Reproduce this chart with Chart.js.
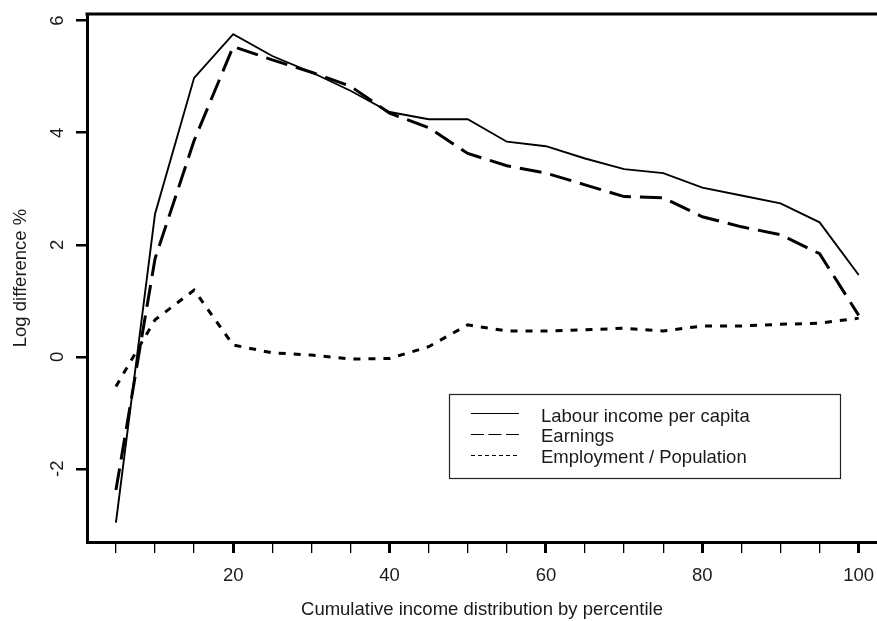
<!DOCTYPE html>
<html>
<head>
<meta charset="utf-8">
<title>Log difference by cumulative income percentile</title>
<script src="https://cdn.jsdelivr.net/npm/chart.js@4.4.1/dist/chart.umd.min.js"></script>
<style>
  html, body { margin: 0; padding: 0; background: #ffffff; }
  #wrap { width: 877px; height: 621px; position: relative; }
</style>
</head>
<body>
<div id="wrap"><canvas id="chart" width="877" height="621"></canvas></div>
<script>
// Cumulative income distribution, by percentile
const percentiles = [5, 10, 15, 20, 25, 30, 35, 40, 45, 50, 55, 60, 65, 70, 75, 80, 85, 90, 95, 100];

// Log difference, %
const labourIncome = [-2.96, 2.55, 4.98, 5.76, 5.37, 5.08, 4.75, 4.37, 4.24, 4.24, 3.84, 3.76, 3.54, 3.35, 3.28, 3.02, 2.88, 2.74, 2.40, 1.46];
const earnings     = [-2.38, 1.75, 3.86, 5.54, 5.30, 5.08, 4.83, 4.35, 4.09, 3.63, 3.41, 3.28, 3.07, 2.86, 2.84, 2.50, 2.32, 2.18, 1.84, 0.74];
const employment   = [-0.53, 0.66, 1.19, 0.21, 0.07, 0.03, -0.04, -0.03, 0.18, 0.57, 0.46, 0.46, 0.48, 0.51, 0.46, 0.55, 0.55, 0.58, 0.60, 0.69];

const seriesNames = ['Labour income per capita', 'Earnings', 'Employment / Population'];

// Axis ticks
const xTickValues = [5, 10, 15, 20, 25, 30, 35, 40, 45, 50, 55, 60, 65, 70, 75, 80, 85, 90, 95, 100];
const xLabelledTicks = [20, 40, 60, 80, 100];
const yTickValues = [-2, 0, 2, 4, 6];

const FONT = '"Liberation Sans", Arial, Helvetica, sans-serif';
const INK = '#000000';
const TEXT = '#1a1a1a';

function points(values) {
  return percentiles.map((p, i) => ({ x: p, y: values[i] }));
}

// Top frame line plus the boxed legend inside the plot
const frameAndLegend = {
  id: 'frameAndLegend',
  afterDraw(chart) {
    const { ctx, chartArea } = chart;
    ctx.save();
    ctx.strokeStyle = INK;
    ctx.lineWidth = 3;
    ctx.beginPath();
    ctx.moveTo(chartArea.left - 1.5, chartArea.top);
    ctx.lineTo(chartArea.right, chartArea.top);
    ctx.stroke();

    // legend box
    const box = { x: 449.5, y: 394.5, w: 391, h: 84 };
    ctx.lineWidth = 1.2;
    ctx.strokeStyle = '#222';
    ctx.strokeRect(box.x, box.y, box.w, box.h);

    const sampleX0 = 471, sampleX1 = 519, textX = 541;
    const lineYs = [413.5, 434.5, 455.5];
    const textYs = [416.5, 437, 457.7];
    const dashes = [[], [13, 4.5], [4, 3]];
    chart.data.datasets.forEach((ds, i) => {
      ctx.strokeStyle = INK;
      ctx.lineWidth = 1;
      ctx.setLineDash(dashes[i]);
      ctx.beginPath();
      ctx.moveTo(sampleX0, lineYs[i]);
      ctx.lineTo(sampleX1, lineYs[i]);
      ctx.stroke();
      ctx.setLineDash([]);
      ctx.fillStyle = TEXT;
      ctx.font = '18.5px ' + FONT;
      ctx.textAlign = 'left';
      ctx.textBaseline = 'middle';
      ctx.fillText(ds.label, textX, textYs[i]);
    });
    ctx.restore();
  }
};

new Chart(document.getElementById('chart'), {
  type: 'line',
  data: {
    datasets: [
      {
        label: seriesNames[0],
        data: points(labourIncome),
        borderColor: INK,
        borderWidth: 1.9,
        borderDash: [],
        pointRadius: 0,
        tension: 0,
        fill: false
      },
      {
        label: seriesNames[1],
        data: points(earnings),
        borderColor: INK,
        borderWidth: 3,
        borderDash: [22, 9],
        pointRadius: 0,
        tension: 0,
        fill: false
      },
      {
        label: seriesNames[2],
        data: points(employment),
        borderColor: INK,
        borderWidth: 3,
        borderDash: [7, 8],
        pointRadius: 0,
        tension: 0,
        fill: false
      }
    ]
  },
  options: {
    responsive: false,
    animation: false,
    devicePixelRatio: 1,
    layout: { padding: { top: 14, right: 0, bottom: 0, left: 0 } },
    plugins: {
      legend: { display: false },
      tooltip: { enabled: false },
      title: { display: false }
    },
    scales: {
      x: {
        type: 'linear',
        position: 'bottom',
        min: 1.3,
        max: 102.34,
        afterBuildTicks(scale) {
          scale.ticks = xTickValues.map(v => ({ value: v }));
        },
        afterFit(scale) {
          scale.height = 79;
          scale.paddingLeft = 0;
          scale.paddingRight = 0;
        },
        ticks: {
          autoSkip: false,
          maxRotation: 0,
          minRotation: 0,
          padding: 11.5,
          color: TEXT,
          font: { family: FONT, size: 18.5 },
          callback: v => (xLabelledTicks.includes(v) ? String(v) : '')
        },
        grid: {
          drawOnChartArea: false,
          drawTicks: true,
          tickLength: 11,
          color: INK,
          lineWidth: ctx => (ctx.tick && xLabelledTicks.includes(ctx.tick.value) ? 3 : 1.3)
        },
        border: { display: true, color: INK, width: 3 },
        title: {
          display: true,
          text: 'Cumulative income distribution by percentile',
          color: TEXT,
          font: { family: FONT, size: 18.5 },
          padding: { top: 0, bottom: 0 }
        }
      },
      y: {
        type: 'linear',
        position: 'left',
        min: -3.307,
        max: 6.12,
        afterBuildTicks(scale) {
          scale.ticks = yTickValues.map(v => ({ value: v }));
        },
        afterFit(scale) {
          scale.width = 87;
          scale.paddingTop = 0;
          scale.paddingBottom = 0;
        },
        ticks: {
          autoSkip: false,
          minRotation: 90,
          maxRotation: 90,
          crossAlign: 'center',
          padding: 10,
          color: TEXT,
          font: { family: FONT, size: 18.5 },
          callback: v => String(v)
        },
        grid: {
          drawOnChartArea: false,
          drawTicks: true,
          tickLength: 11,
          color: INK,
          lineWidth: 2.5
        },
        border: { display: true, color: INK, width: 3 },
        title: {
          display: true,
          text: 'Log difference %',
          color: TEXT,
          font: { family: FONT, size: 18.5 },
          padding: { top: 10, bottom: 0 }
        }
      }
    }
  },
  plugins: [frameAndLegend]
});
</script>
</body>
</html>
